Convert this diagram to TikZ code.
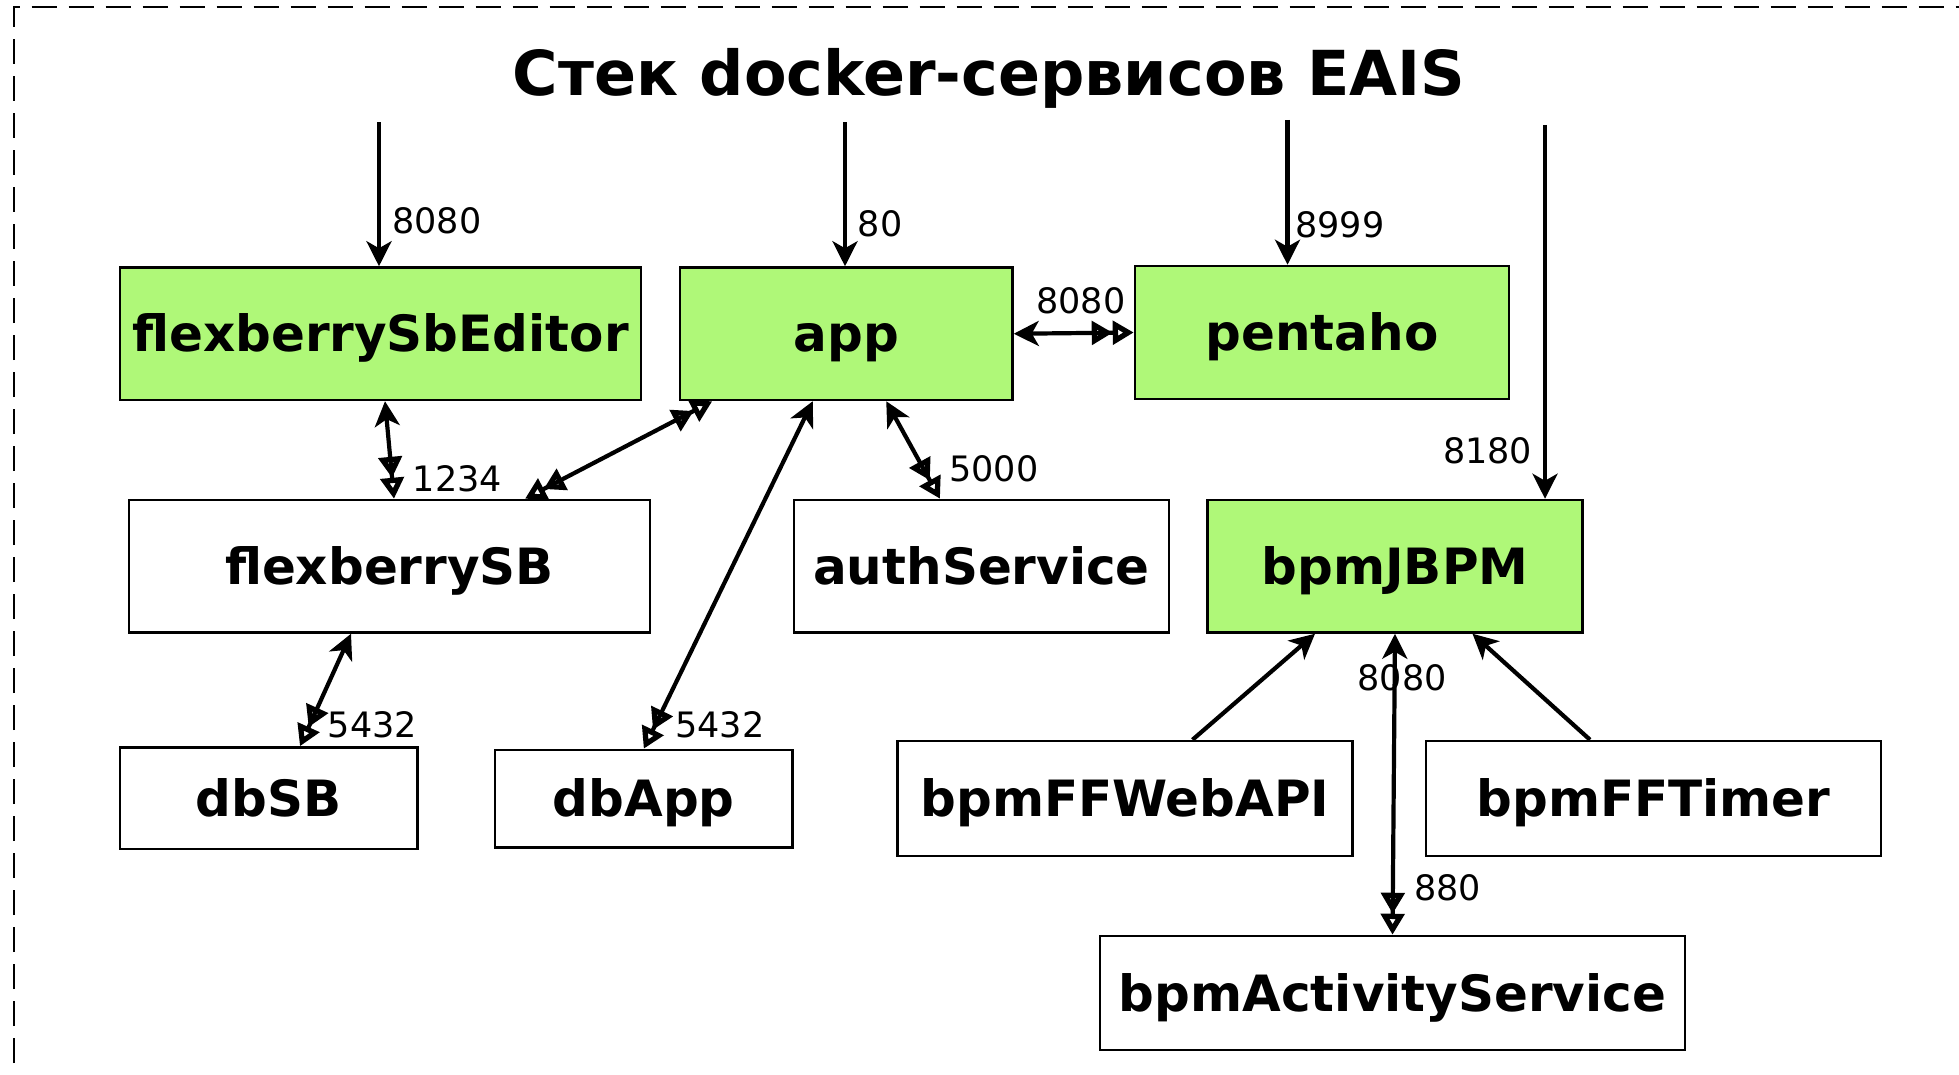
\documentclass[tikz,border=0pt]{standalone}
\usepackage{fontspec}
\setmainfont{DejaVu Sans}
\usetikzlibrary{arrows.meta}
\definecolor{grn}{RGB}{175,248,120}
\tikzset{
  blk/.tip={Stealth[length=12.5pt,width=12.5pt,inset=3.5pt]},
  dbl/.tip={Triangle[open,length=10.5pt,width=11.5pt,line width=3.2pt]Triangle[open,length=10.5pt,width=11.5pt,line width=3.2pt]},
  box/.style={draw=black, line width=1.25pt, inner sep=0pt, fill=white, text height=18.2pt, text depth=0pt, font=\fontsize{25}{30}\selectfont\bfseries},
  gbox/.style={box, fill=grn},
  port/.style={font=\fontsize{17.5}{21}\selectfont, inner sep=0pt},
  conn/.style={line width=2.1pt, line cap=butt},
  frame/.style={line width=1pt, dash pattern=on 12.5pt off 6pt}
}
\begin{document}
\begin{tikzpicture}[x=0.5pt,y=-0.5pt]
\useasboundingbox (0,0) rectangle (1959,1075);
\draw[frame] (14,1100) -- (14,7.5) -- (2000,7.5);
\node[font=\fontsize{31}{37}\selectfont\bfseries, anchor=base, inner sep=0pt] (title) at (989,96) {Стек docker-сервисов EAIS};

% nodes
\node[gbox, minimum width=260.5pt, minimum height=66.25pt] (fse) at (380.5,333.75) {flexberrySbEditor};
\node[gbox, minimum width=166.25pt, minimum height=66.25pt] (app) at (846.25,333.75) {app};
\node[gbox, minimum width=187pt, minimum height=66.5pt] (pen) at (1322,332.5) {pentaho};
\node[box, minimum width=260.5pt, minimum height=66.25pt] (fsb) at (389.5,566.25) {flexberrySB};
\node[box, minimum width=187.5pt, minimum height=66.25pt] (auth) at (981.5,566.25) {authService};
\node[gbox, minimum width=187.5pt, minimum height=66.25pt] (bpm) at (1395,566.25) {bpmJBPM};
\node[box, minimum width=148.75pt, minimum height=50.75pt] (dbsb) at (268.75,798.25) {dbSB};
\node[box, minimum width=148.75pt, minimum height=48.75pt] (dbapp) at (643.75,798.75) {dbApp};
\node[box, minimum width=227.5pt, minimum height=57.5pt] (web) at (1125,798.5) {bpmFFWebAPI};
\node[box, minimum width=227.5pt, minimum height=57.5pt] (tim) at (1653.5,798.5) {bpmFFTimer};
\node[box, minimum width=292.5pt, minimum height=57pt] (act) at (1392.5,993) {bpmActivityService};

% incoming
\coordinate (i1) at (379,122.5);
\coordinate (i2) at (845,122.5);
\coordinate (i3) at (1287.5,120);
\coordinate (i4) at (1545,125);
\draw[conn,-{blk}] (i1) -- (i1 |- fse.north);
\draw[conn,-{blk}] (i2) -- (i2 |- app.north);
\draw[conn,-{blk}] (i3) -- (i3 |- pen.north);
\draw[conn,-{blk}] (i4) -- (i4 |- bpm.north);

% connectors
\draw[conn,{blk}-{dbl}] (app.east) -- (pen.west);
\draw[conn,{blk}-{dbl}] ([xshift=2.25pt]fse.south) -- ([xshift=2.25pt]fsb.north);
\draw[conn,{dbl}-{dbl}] ([xshift=67.75pt]fsb.north) -- ([xshift=-67pt]app.south);
\draw[conn,{blk}-{dbl}] ([xshift=-16.75pt]app.south) -- (dbapp.north);
\draw[conn,{blk}-{dbl}] ([xshift=20pt]app.south) -- ([xshift=-20.75pt]auth.north);
\draw[conn,{blk}-{dbl}] ([xshift=-19.25pt]fsb.south) -- ([xshift=15.6pt]dbsb.north);
\draw[conn,-{blk}] ([xshift=33.75pt]web.north) -- ([xshift=-40pt]bpm.south);
\draw[conn,-{blk}] ([xshift=-31.75pt]tim.north) -- ([xshift=38.75pt]bpm.south);
\draw[conn,{blk}-{dbl}] (bpm.south) -- (act.north);

% port labels
\node[port, anchor=west] (p1) at (392,221) {8080};
\node[port, anchor=west] (p2) at (857.5,224) {80};
\node[port, anchor=west] (p3) at (1295,225) {8999};
\node[port, anchor=east] (p4) at (1532.5,451) {8180};
\node[port] (p5) at (1081,301) {8080};
\node[port, anchor=west] (p6) at (412.5,479) {1234};
\node[port, anchor=west] (p7) at (675,725) {5432};
\node[port, anchor=west] (p8) at (949,469) {5000};
\node[port, anchor=west] (p9) at (327.5,725) {5432};
\node[port] (p10) at (1402,677.5) {8080};
\node[port, anchor=west] (p11) at (1414,887.5) {880};
\end{tikzpicture}
\end{document}
